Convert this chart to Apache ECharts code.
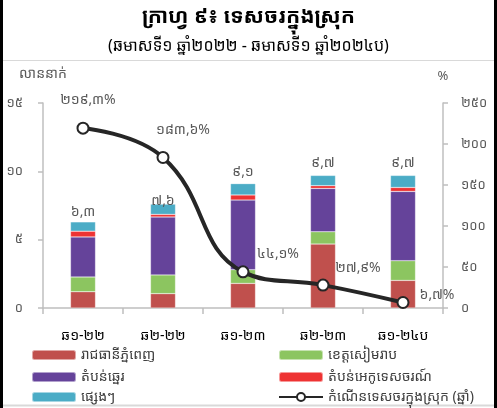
<!DOCTYPE html>
<html>
<head>
<meta charset="utf-8">
<script src="https://cdn.jsdelivr.net/npm/echarts@6/dist/echarts.min.js"></script>
<style>
html,body{margin:0;padding:0;background:#fff;}
#c{width:497px;height:408px;}
</style>
</head>
<body>
<div id="c"></div>
<script>
// ---- data ----
var categories = ["ឆ១-២២", "ឆ២-២២", "ឆ១-២៣", "ឆ២-២៣", "ឆ១-២៤ប"];
var phnomPenh  = [1.19, 1.05, 1.80, 4.68, 2.02];
var siemReap   = [1.08, 1.37, 1.00, 0.90, 1.44];
var coastal    = [2.93, 4.24, 5.10, 3.17, 5.07];
var ecoTourism = [0.42, 0.19, 0.37, 0.20, 0.29];
var others     = [0.68, 0.75, 0.83, 0.75, 0.88];
var totals     = [6.3, 7.6, 9.1, 9.7, 9.7];
var growth     = [219.3, 183.6, 44.1, 27.9, 6.7];

var seriesNames = ["រាជធានីភ្នំពេញ", "ខេត្តសៀមរាប", "តំបន់ឆ្នេរ", "តំបន់អេកូទេសចរណ៍", "ផ្សេងៗ", "កំណើនទេសចរក្នុងស្រុក (ឆ្នាំ)"];
var titleText = "ក្រាហ្វ ៩៖ ទេសចរក្នុងស្រុក";
var subtitleText = "(ឆមាសទី១ ឆ្នាំ២០២២ - ឆមាសទី១ ឆ្នាំ២០២៤ប)";
var leftAxisName = "លាននាក់";
var rightAxisName = "%";

// ---- helpers / styles ----
function toKhmer(v) {
  var s = String(v);
  var out = "";
  for (var i = 0; i < s.length; i++) {
    var ch = s[i];
    if (ch >= "0" && ch <= "9") out += String.fromCharCode(0x17E0 + (ch.charCodeAt(0) - 48));
    else if (ch === ".") out += ",";
    else out += ch;
  }
  return out;
}
var FONT = "'Noto Sans Khmer','Khmer OS','Khmer OS System','DejaVu Sans',sans-serif";
var colors = ["#C0504D", "#8CC560", "#65439A", "#EE3333", "#4BACC6", "#262626"];
var lineLabelOffsets = [[5, 1], [20, 2], [35, 12], [35, 12], [34, 22]];
var totalLabelOffsets = [[0, 3], [0, 10], [0, 1], [0, 1], [0, 1]];
var textColor = "#595959";
var axisColor = "#BFBFBF";

var chart = echarts.init(document.getElementById("c"));

var barLists = [phnomPenh, siemReap, coastal, ecoTourism, others];
var series = [];
barLists.forEach(function (arr, i) {
  var isTop = (i === barLists.length - 1);
  var s = {
    name: seriesNames[i],
    type: "bar",
    stack: "total",
    barWidth: 25,
    yAxisIndex: 0,
    itemStyle: { color: colors[i], borderColor: "rgba(255,255,255,0.5)", borderWidth: 0.5 },
    data: isTop ? arr.map(function (v, k) { return { value: v, label: { offset: totalLabelOffsets[k] } }; }) : arr
  };
  if (isTop) {
    s.label = {
      show: true,
      position: "top",
      distance: 6,
      color: textColor,
      fontSize: 14,
      fontFamily: FONT,
      formatter: function (p) { return toKhmer(totals[p.dataIndex]); }
    };
  }
  series.push(s);
});

series.push({
  name: seriesNames[5],
  type: "line",
  yAxisIndex: 1,
  smooth: 0.45,
  z: 10,
  symbol: "circle",
  symbolSize: 11,
  lineStyle: { color: colors[5], width: 4 },
  itemStyle: { color: "#fff", borderColor: colors[5], borderWidth: 2 },
  data: growth.map(function (v, i) {
    return { value: v, label: { offset: lineLabelOffsets[i] } };
  }),
  label: {
    show: true,
    position: "top",
    distance: 16,
    color: textColor,
    fontSize: 14,
    fontFamily: FONT,
    formatter: function (p) { return toKhmer(p.value) + "%"; }
  }
});

var legendRows = [355, 377, 397];
var legends = seriesNames.map(function (n, i) {
  return {
    data: [n],
    left: (i % 2 === 0) ? 31 : 278,
    top: legendRows[Math.floor(i / 2)] - 7,
    itemWidth: 44,
    itemHeight: 10,
    itemGap: 5,
    selectedMode: false,
    textStyle: { color: "#404040", fontSize: 14, fontFamily: FONT },
    padding: 0
  };
});

chart.setOption({
  animation: false,
  textStyle: { fontFamily: FONT },
  color: colors,
  title: [
    { text: titleText, left: "center", top: 2, textStyle: { fontSize: 21, fontWeight: "bold", color: "#000", fontFamily: FONT } },
    { text: subtitleText, left: "center", top: 33, textStyle: { fontSize: 16, fontWeight: "normal", color: "#000", fontFamily: FONT } }
  ],
  legend: legends,
  grid: { left: 43, right: 54, top: 103, bottom: 100 },
  xAxis: {
    type: "category",
    data: categories,
    boundaryGap: true,
    axisLine: { lineStyle: { color: axisColor, width: 1.5 } },
    axisTick: { show: true, length: 6, lineStyle: { color: axisColor, width: 1.5 } },
    axisLabel: { color: "#000", fontSize: 14, margin: 21, fontFamily: FONT }
  },
  yAxis: [
    {
      type: "value", min: 0, max: 15, interval: 5,
      name: leftAxisName, nameLocation: "end", nameGap: 22,
      nameTextStyle: { color: textColor, fontSize: 14, fontFamily: FONT, align: "center" },
      axisLine: { show: true, lineStyle: { color: axisColor, width: 1.5 } },
      axisTick: { show: true, length: 5, lineStyle: { color: axisColor, width: 1.5 } },
      axisLabel: { color: textColor, fontSize: 13, margin: 20, fontFamily: FONT, formatter: function (v) { return toKhmer(v); } },
      splitLine: { show: false }
    },
    {
      type: "value", min: 0, max: 250, interval: 50,
      name: rightAxisName, nameLocation: "end", nameGap: 20,
      nameTextStyle: { color: textColor, fontSize: 13, fontFamily: FONT, align: "center" },
      axisLine: { show: true, lineStyle: { color: axisColor, width: 1.5 } },
      axisTick: { show: true, length: 5, lineStyle: { color: axisColor, width: 1.5 } },
      axisLabel: { color: textColor, fontSize: 13, margin: 18, fontFamily: FONT, formatter: function (v) { return toKhmer(v); } },
      splitLine: { show: false }
    }
  ],
  series: series,
  graphic: [
    { type: "line", shape: { x1: 1.5, y1: 0, x2: 1.5, y2: 408 }, style: { stroke: "#000", lineWidth: 3 } },
    { type: "line", shape: { x1: 495.5, y1: 0, x2: 495.5, y2: 408 }, style: { stroke: "#000", lineWidth: 3 } },
    { type: "line", shape: { x1: 3, y1: 60.5, x2: 494, y2: 60.5 }, style: { stroke: "#D9D9D9", lineWidth: 1 } },
    { type: "line", shape: { x1: 3, y1: 405.5, x2: 494, y2: 405.5 }, style: { stroke: "#D9D9D9", lineWidth: 2 } }
  ]
});
</script>
</body>
</html>
